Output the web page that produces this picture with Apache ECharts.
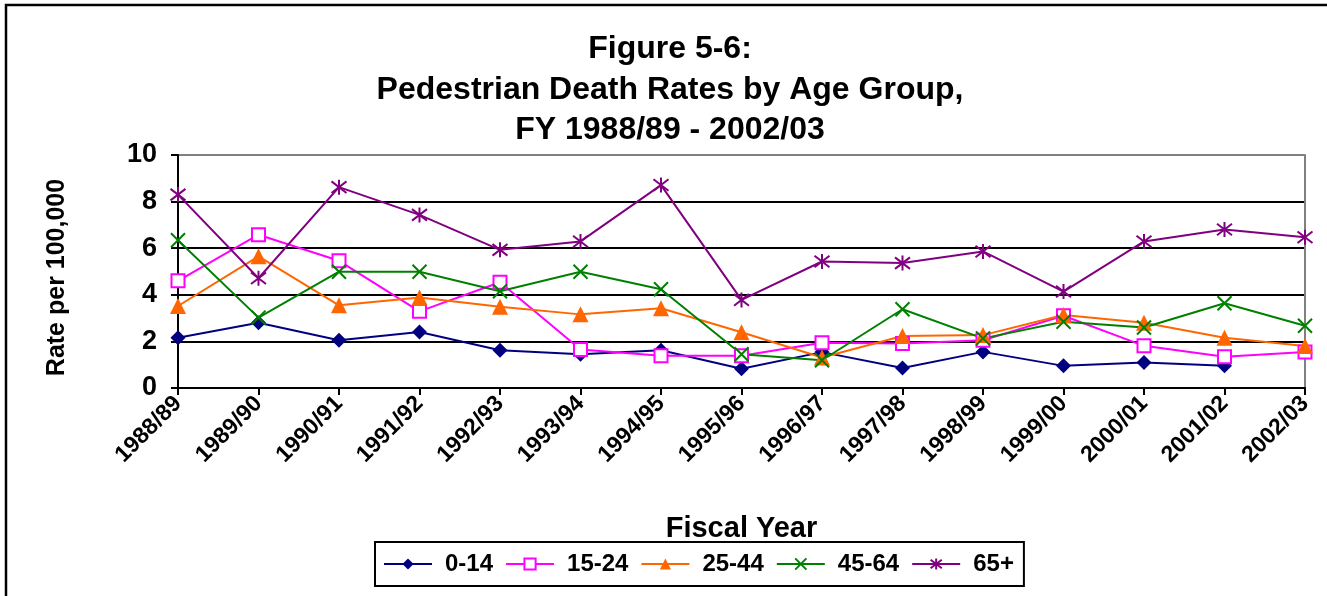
<!DOCTYPE html>
<html>
<head>
<meta charset="utf-8">
<script src="https://cdn.jsdelivr.net/npm/echarts@6/dist/echarts.min.js"></script>
<style>
  html, body { margin: 0; padding: 0; background: #fff; }
  #chart { width: 1327px; height: 596px; }
</style>
</head>
<body>
<div id="chart"></div>
<script>
// pedestrian death rates per 100,000, by age group
var years = ['1988/89', '1989/90', '1990/91', '1991/92', '1992/93', '1993/94', '1994/95',
    '1995/96', '1996/97', '1997/98', '1998/99', '1999/00', '2000/01', '2001/02', '2002/03'];

var age0_14 = [2.16, 2.80, 2.05, 2.40, 1.62, 1.45, 1.62, 0.83, 1.54, 0.86, 1.55, 0.95, 1.09, 0.95, null];
var age15_24 = [4.60, 6.58, 5.46, 3.29, 4.54, 1.65, 1.38, 1.38, 1.94, 1.91, 2.05, 3.10, 1.81, 1.34, 1.55];
var age25_44 = [3.52, 5.65, 3.55, 3.88, 3.49, 3.16, 3.42, 2.39, 1.31, 2.23, 2.27, 3.13, 2.80, 2.16, 1.80];
var age45_64 = [6.34, 3.02, 4.99, 4.99, 4.15, 4.99, 4.24, 1.45, 1.19, 3.38, 2.13, 2.84, 2.60, 3.64, 2.67];
var age65 = [8.30, 4.71, 8.62, 7.43, 5.93, 6.29, 8.71, 3.78, 5.43, 5.36, 5.86, 4.14, 6.29, 6.80, 6.47];

var yTicks = [0, 2, 4, 6, 8, 10];
var titleLines = ['Figure 5-6:', 'Pedestrian Death Rates by Age Group,', 'FY 1988/89 - 2002/03'];

var chart = echarts.init(document.getElementById('chart'));

var FONT = '"Liberation Sans", Arial, sans-serif';
var XMARK = 'path://M0,0L10,10M10,0L0,10';
var STAR = 'path://M0,0L10,10M10,0L0,10M5,-1.5L5,11.5';

function line(name, data, color, symbol, size, hollow) {
    return {
        name: name,
        type: 'line',
        data: data,
        symbol: symbol,
        symbolSize: size,
        showAllSymbol: true,
        connectNulls: false,
        lineStyle: { color: color, width: 2 },
        itemStyle: {
            color: hollow ? '#fff' : color,
            borderColor: color,
            borderWidth: (hollow || symbol.indexOf('path') === 0) ? 2 : 0
        },
        emphasis: { disabled: true },
        z: 3
    };
}

var titleY = [28, 69, 109];

function titleLine(text, i) {
    return {
        text: text,
        left: 665,
        top: titleY[i],
        textAlign: 'center',
        textStyle: {
            fontFamily: FONT,
            fontWeight: 'bold',
            fontSize: 32,
            color: '#000'
        }
    };
}

var option = {
    animation: false,
    backgroundColor: '#fff',
    title: titleLines.map(titleLine),
    graphic: [{
        type: 'rect',
        shape: { x: 6, y: 5, width: 1400, height: 700 },
        style: { fill: 'none', stroke: '#000', lineWidth: 2.5 },
        silent: true
    }],
    legend: {
        top: 542,
        left: 375,
        itemWidth: 48,
        itemHeight: 14,
        itemGap: 12,
        padding: [10, 10, 10, 8],
        borderColor: '#000',
        borderWidth: 2,
        textStyle: {
            fontFamily: FONT,
            fontWeight: 'bold',
            fontSize: 24,
            color: '#000',
            padding: [0, 0, 0, 8]
        },
        data: ['0-14', '15-24', '25-44', '45-64', '65+']
    },
    grid: {
        left: 178,
        right: 22,
        top: 155,
        bottom: 208,
        containLabel: false
    },
    xAxis: {
        type: 'category',
        data: years,
        boundaryGap: false,
        name: 'Fiscal Year',
        nameLocation: 'middle',
        nameGap: 126,
        nameTextStyle: {
            fontFamily: FONT,
            fontWeight: 'bold',
            fontSize: 29,
            color: '#000'
        },
        axisLine: { lineStyle: { color: '#000', width: 2 } },
        axisTick: { show: true, length: 7, inside: false, alignWithLabel: true, lineStyle: { color: '#000', width: 2 } },
        axisLabel: {
            interval: 0,
            rotate: 45,
            margin: 12,
            fontFamily: FONT,
            fontWeight: 'bold',
            fontSize: 23,
            color: '#000'
        },
        splitLine: { show: false }
    },
    yAxis: [{
        type: 'value',
        min: yTicks[0],
        max: yTicks[yTicks.length - 1],
        interval: 2,
        name: 'Rate per 100,000',
        nameLocation: 'middle',
        nameRotate: 90,
        nameGap: 108,
        nameTextStyle: {
            fontFamily: FONT,
            fontWeight: 'bold',
            fontSize: 25,
            color: '#000',
            padding: [0, 12, 0, 0]
        },
        axisLine: { show: true, lineStyle: { color: '#000', width: 2 } },
        axisTick: { show: true, length: 7, lineStyle: { color: '#000', width: 2 } },
        axisLabel: {
            margin: 21,
            fontFamily: FONT,
            fontWeight: 'bold',
            fontSize: 27,
            color: '#000'
        },
        splitLine: {
            show: true,
            lineStyle: { color: ['#000', '#000', '#000', '#000', '#000', '#808080'], width: 2 }
        }
    }, {
        type: 'value',
        position: 'right',
        min: yTicks[0],
        max: yTicks[yTicks.length - 1],
        interval: 2,
        axisLine: { show: true, lineStyle: { color: '#808080', width: 2 } },
        axisTick: { show: false },
        axisLabel: { show: false },
        splitLine: { show: false }
    }],
    series: [
        line('0-14', age0_14, '#000080', 'diamond', 15, false),
        line('15-24', age15_24, '#FF00FF', 'rect', 13, true),
        line('25-44', age25_44, '#FF6600', 'triangle', 16, false),
        line('45-64', age45_64, '#008000', XMARK, 14, false),
        line('65+', age65, '#800080', STAR, 15, false)
    ]
};

chart.setOption(option);
</script>
</body>
</html>
